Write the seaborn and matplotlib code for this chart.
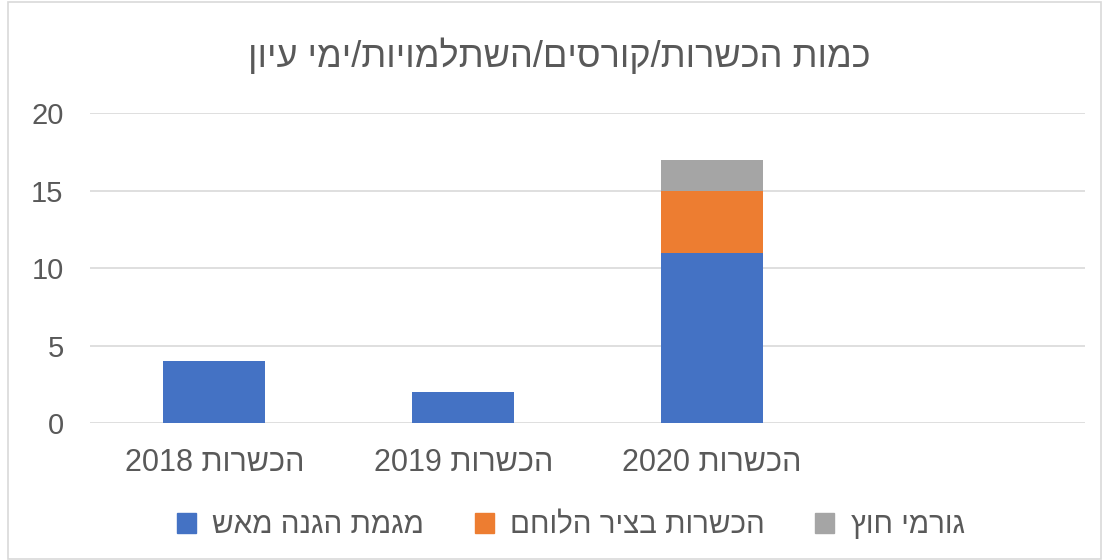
import matplotlib
matplotlib.use("Agg")
import matplotlib.pyplot as plt
import seaborn as sns
import pandas as pd
import re

# Hebrew is right-to-left; matplotlib draws left-to-right, so put text in visual order
def rtl(s):
    r = s[::-1]
    return re.sub(r"\d+", lambda m: m.group(0)[::-1], r)

categories = ["הכשרות 2018", "הכשרות 2019", "הכשרות 2020", ""]
fire_defense = [4, 2, 11, 0]
combat_axis = [0, 0, 4, 0]
external = [0, 0, 2, 0]
series_names = ["מגמת הגנה מאש", "הכשרות בציר הלוחם", "גורמי חוץ"]
colors = ["#4472C4", "#ED7D31", "#A5A5A5"]
title = "כמות הכשרות/קורסים/השתלמויות/ימי עיון"
yticks = [0, 5, 10, 15, 20]

sns.set_theme(style="white")
plt.rcParams["font.family"] = ["Liberation Sans", "DejaVu Sans"]
text_color = "#595959"

labels = [rtl(c) for c in categories]
df = pd.DataFrame({
    "cat": labels,
    "s1": fire_defense,
    "s2": [a + b for a, b in zip(fire_defense, combat_axis)],
    "s3": [a + b + c for a, b, c in zip(fire_defense, combat_axis, external)],
})

fig = plt.figure(figsize=(11.04, 5.6), dpi=100)
ax = fig.add_axes([0.0815, 0.2446, 0.9015, 0.5536])

# stacked bars: draw cumulative totals back to front
for col, color in zip(["s3", "s2", "s1"], colors[::-1]):
    sns.barplot(data=df, x="cat", y=col, color=color, width=0.41,
                saturation=1, linewidth=0, ax=ax, zorder=3)

ax.set_ylim(0, 20)
ax.set_yticks(yticks)
ax.set_xlim(-0.5, 3.5)
ax.yaxis.grid(True, color="#D9D9D9", linewidth=1.2, zorder=0)
ax.set_axisbelow(True)
for sp in ax.spines.values():
    sp.set_visible(False)
ax.set_xlabel("")
ax.set_ylabel("")
ax.tick_params(axis="y", length=0, pad=19, labelsize=21, labelcolor=text_color)
ax.tick_params(axis="x", length=0, pad=18, labelsize=22, labelcolor=text_color)

fig.text(0.507, 0.898, rtl(title), ha="center", va="center", fontsize=26, color=text_color)

handles = [plt.Rectangle((0, 0), 1, 1, color=c) for c in colors]
fig.legend(handles, [rtl(n) for n in series_names], loc="center", bbox_to_anchor=(0.517, 0.062),
           ncol=3, frameon=False, fontsize=21.3, labelcolor=text_color,
           handlelength=0.65, handleheight=0.65, handletextpad=0.55, columnspacing=1.7)

# chart border
fig.patches.append(plt.Rectangle((0.007, 0.002), 0.99, 0.994, transform=fig.transFigure,
                                 fill=False, edgecolor="#D9D9D9", linewidth=1.2))

fig.savefig("out.png", dpi=100)
